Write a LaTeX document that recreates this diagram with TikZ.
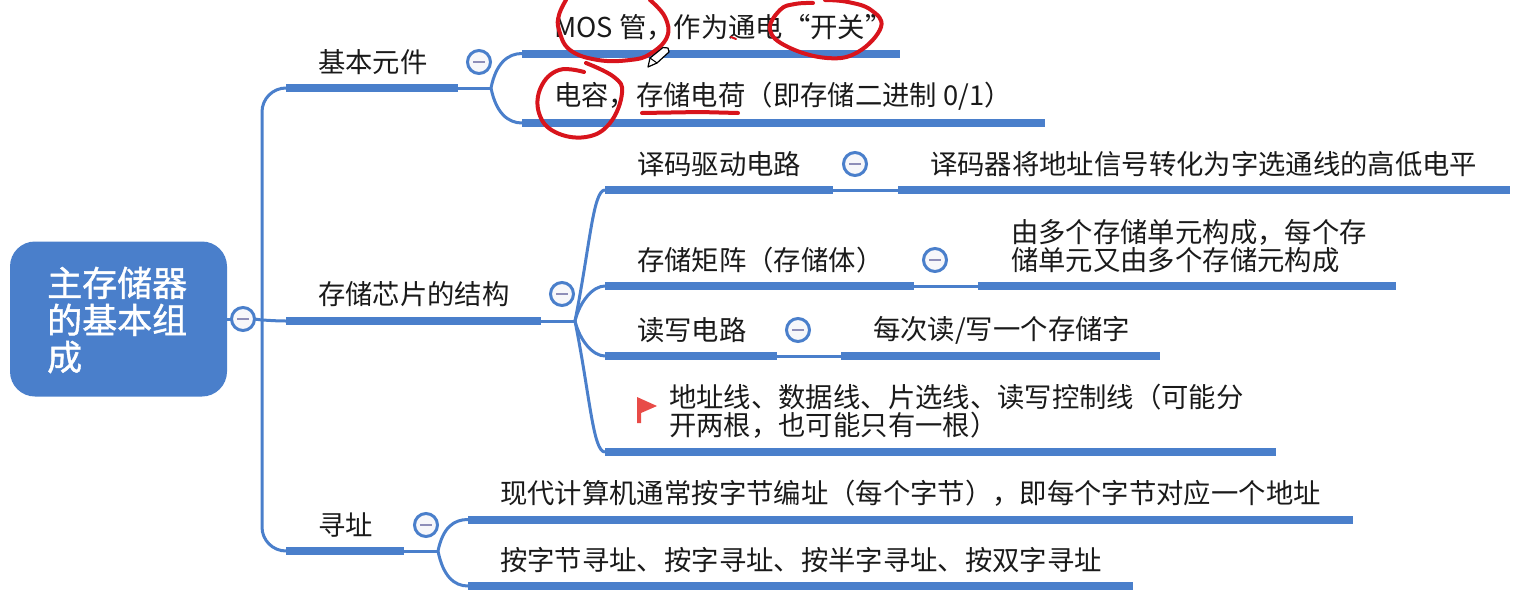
\documentclass[tikz,border=0pt]{standalone}
\usepackage{fontspec}
\setmainfont{Noto Sans CJK SC}
\newfontfamily\mmrootfont[FakeBold=1.2]{Noto Sans CJK SC}
\definecolor{mmblue}{HTML}{4A7FCB}
\definecolor{mmred}{HTML}{D8141C}
\definecolor{mmflag}{HTML}{E84B47}
\definecolor{mmdash}{HTML}{8E8EB8}
\definecolor{mmink}{HTML}{1A1A1A}
\tikzset{
  mmbar/.style={fill=mmblue,draw=none,inner sep=0pt,outer sep=0pt,minimum height=8pt},
  mmtext/.style={anchor=west,inner sep=0pt,text=mmink,align=left,font=\fontsize{27.35}{28}\selectfont},
  mmconn/.style={draw=mmblue,line width=3pt},
  mmtoggle/.style={circle,draw=mmblue,line width=3pt,fill=white!93!mmdash,minimum size=23pt,inner sep=0pt,outer sep=0pt,
    path picture={\draw[mmdash,line width=2.6pt] ([xshift=-6pt]path picture bounding box.center) -- ([xshift=6pt]path picture bounding box.center);}},
  mmink1/.style={draw=mmred,line width=4pt,line cap=round,line join=round},
}
\newcommand{\mmbarnode}[4]{%
  \pgfmathsetmacro{\mmmid}{(#2+#3)/2}\pgfmathsetmacro{\mmwid}{#3-#2}%
  \node[mmbar,minimum width=\mmwid pt] (#1) at (\mmmid,#4) {};}
\begin{document}
\begin{tikzpicture}[x=1pt,y=-1pt]
\useasboundingbox (0,0) rectangle (1515,597);
% root
\node[fill=mmblue,rounded corners=25pt,minimum width=217pt,minimum height=155pt,inner sep=0pt] (root) at (118.5,319) {};
\node[anchor=west,inner sep=0pt,text=white,align=left,font=\fontsize{35}{37}\mmrootfont] (roott) at (47,320) {主存储器\\的基本组\\成};
% bars
\mmbarnode{bA}{286}{458}{88}
\mmbarnode{bA1}{522}{900}{53.5}
\mmbarnode{bA2}{522}{1045}{123}
\mmbarnode{bB}{286}{541}{321}
\mmbarnode{bB1}{605}{833}{190}
\mmbarnode{bB1x}{898}{1510}{190}
\mmbarnode{bB2}{605}{914}{286}
\mmbarnode{bB2x}{978}{1396}{286}
\mmbarnode{bB3}{605}{777}{356}
\mmbarnode{bB3x}{841}{1160}{356}
\mmbarnode{bB4}{605}{1276}{452}
\mmbarnode{bC}{286}{404}{551}
\mmbarnode{bC1}{468}{1353}{519.5}
\mmbarnode{bC2}{468}{1133}{586}
% junctions
\coordinate (j0) at (262,320);
\coordinate (jA) at (491,88);
\coordinate (jB) at (575,321);
\coordinate (jC) at (438,551);
% toggles
\node[mmtoggle] (t0) at (243,319) {};
\node[mmtoggle] (tA) at (479,62) {};
\node[mmtoggle] (tB) at (562,294) {};
\node[mmtoggle] (tB1) at (855,164) {};
\node[mmtoggle] (tB2) at (935,260) {};
\node[mmtoggle] (tB3) at (798,330) {};
\node[mmtoggle] (tC) at (426,525) {};
% connectors
\draw[mmconn] (root.east) -- (t0.west);
\draw[mmconn] (t0.east) -- (j0) to[out=-3,in=180] (bB.west);
\draw[mmconn,rounded corners=24pt] (j0) |- (bA.west);
\draw[mmconn,rounded corners=24pt] (j0) |- (bC.west);
\draw[mmconn] (bA.east) -- (jA);
\draw[mmconn] (jA) .. controls +(5,-25) and +(-14,0) .. (bA1.west);
\draw[mmconn] (jA) .. controls +(5,25) and +(-14,0) .. (bA2.west);
\draw[mmconn] (bB.east) -- (jB);
\draw[mmconn] (jB) .. controls +(15,-75) and +(-12,0) .. (bB1.west);
\draw[mmconn] (jB) .. controls +(5,-20) and +(-12,0) .. (bB2.west);
\draw[mmconn] (jB) .. controls +(5,20) and +(-12,0) .. (bB3.west);
\draw[mmconn] (jB) .. controls +(15,75) and +(-12,0) .. (bB4.west);
\draw[mmconn] (bB1.east) -- (bB1x.west);
\draw[mmconn] (bB2.east) -- (bB2x.west);
\draw[mmconn] (bB3.east) -- (bB3x.west);
\draw[mmconn] (bC.east) -- (jC);
\draw[mmconn] (jC) .. controls +(5,-24) and +(-14,0) .. (bC1.west);
\draw[mmconn] (jC) .. controls +(5,25) and +(-14,0) .. (bC2.west);
% texts
\node[mmtext] (xA) at (318,62) {基本元件};
\node[mmtext] (xA1) at (554,27) {MOS 管，作为通电“开关”};
\node[mmtext] (xA2) at (554,96) {电容，存储电荷（即存储二进制 0/1）};
\node[mmtext] (xB) at (318,294) {存储芯片的结构};
\node[mmtext] (xB1) at (637,164) {译码驱动电路};
\node[mmtext] (xB1x) at (930,164) {译码器将地址信号转化为字选通线的高低电平};
\node[mmtext] (xB2) at (637,260) {存储矩阵（存储体）};
\node[mmtext] (xB2x) at (1011,246) {由多个存储单元构成，每个存\\储单元又由多个存储元构成};
\node[mmtext] (xB3) at (637,330) {读写电路};
\node[mmtext] (xB3x) at (873,330) {每次读/写一个存储字};
\node[mmtext] (xB4) at (669,411) {地址线、数据线、片选线、读写控制线（可能分\\开两根，也可能只有一根）};
\node[mmtext] (xC) at (318,525) {寻址};
\node[mmtext] (xC1) at (500,493) {现代计算机通常按字节编址（每个字节），即每个字节对应一个地址};
\node[mmtext] (xC2) at (500,560) {按字节寻址、按字寻址、按半字寻址、按双字寻址};
% flag
\fill[mmflag] (637,397) -- (657,406) -- (641,413) -- (641,423) -- (637,423) -- cycle;
% red handwriting
\draw[mmink1] plot[smooth,tension=0.7] coordinates {(566,0) (559,15) (559,30) (570,50) (598,60) (630,60) (650,54) (667,37) (665,17) (650,0)};
\draw[mmink1] plot[smooth,tension=0.7] coordinates {(813,3) (795,4) (780,10) (770,30) (788,47) (827,58) (858,52) (881,27) (871,10) (848,2) (825,0)};
\draw[mmink1] plot[smooth,tension=0.7] coordinates {(584,72) (559,70) (541,87) (539,113) (555,132) (586,137) (610,123) (622,93) (614,77) (586,63)};
\draw[mmink1] (642,113) -- (700,112) -- (738,113);
\draw[mmink1,line width=2pt] (731,37) -- (736,39);
% pencil cursor
\draw[black,line width=1.2pt,fill=white,line join=round] (648,67) -- (650,58) -- (663,47.5) -- (668,48) -- (669,52) -- (657,63) -- cycle;
\draw[black,line width=1pt] (650,58) -- (657,63);
\end{tikzpicture}
\end{document}
